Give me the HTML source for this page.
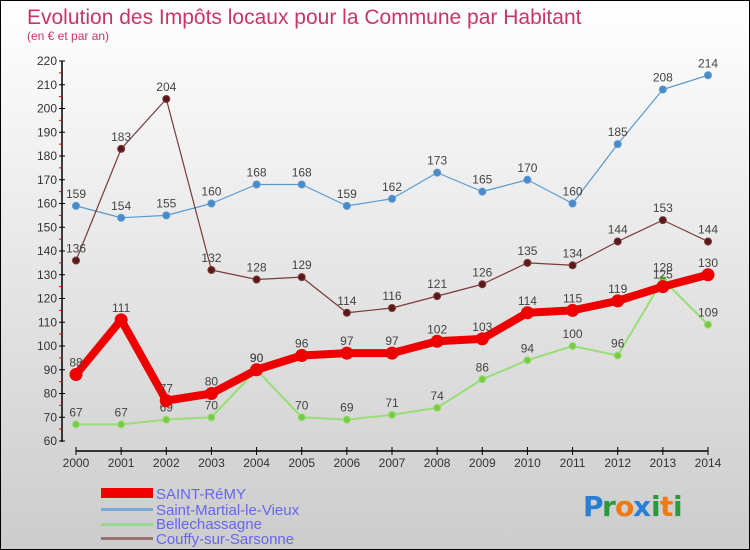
<!DOCTYPE html>
<html><head><meta charset="utf-8"><style>
body{margin:0}
#wrap{position:relative;width:748px;height:548px;border:1px solid #000;background:linear-gradient(#fff 0%,#f0f0f0 30%,#ccc 100%);font-family:"Liberation Sans",sans-serif;overflow:hidden}
svg{position:absolute;left:0;top:0}
</style></head><body>
<div id="wrap">
<svg id="chart" width="750" height="550">
<text x="26" y="23" font-size="21" fill="#c8356a">Evolution des Impôts locaux pour la Commune par Habitant</text>
<text x="26" y="39" font-size="12" fill="#c8356a">(en € et par an)</text>
<g id="axes"></g><g id="series"></g>
<g>
<rect x="100" y="487" width="52" height="10" fill="#e00"/>
<text x="155" y="498" font-size="15" fill="#6666ee">SAINT-RéMY</text>
<rect x="100" y="507" width="52" height="3" fill="#7aaad8"/>
<text x="155" y="514" font-size="15" fill="#6666ee">Saint-Martial-le-Vieux</text>
<rect x="100" y="522" width="52" height="3" fill="#99dd77"/>
<text x="155" y="528" font-size="15" fill="#6666ee">Bellechassagne</text>
<rect x="100" y="536" width="52" height="3" fill="#997070"/>
<text x="155" y="543" font-size="15" fill="#6666ee">Couffy-sur-Sarsonne</text>
</g>
<g font-size="28" font-weight="bold" font-family="'DejaVu Sans',sans-serif">
<text x="582" y="515" fill="#2a7fd4">P</text><text x="601" y="515" fill="#2a9a3a">r</text><text x="614" y="515" fill="#f07a10">o</text><text x="632" y="515" fill="#2a7fd4">x</text><text x="650" y="515" fill="#2a9a3a">i</text><text x="659" y="515" fill="#f07a10">t</text><text x="672" y="515" fill="#2a9a3a">i</text>
</g>
</svg>
</div>
<script>
const years=[2000,2001,2002,2003,2004,2005,2006,2007,2008,2009,2010,2011,2012,2013,2014];
const yTicks=[60,70,80,90,100,110,120,130,140,150,160,170,180,190,200,210,220];
const saintRemy=[88,111,77,80,90,96,97,97,102,103,114,115,119,125,130];
const saintMartial=[159,154,155,160,168,168,159,162,173,165,170,160,185,208,214];
const bellechassagne=[67,67,69,70,90,70,69,71,74,86,94,100,96,128,109];
const couffy=[136,183,204,132,128,129,114,116,121,126,135,134,144,153,144];
const NS="http://www.w3.org/2000/svg";
const xS=i=>75+i*(632/14);
const yS=v=>440-(v-60)*2.375;
function mk(t,a,p){const e=document.createElementNS(NS,t);for(const k in a)e.setAttribute(k,a[k]);p.appendChild(e);return e;}
const ax=document.getElementById('axes');
let l=mk('line',{x1:61,y1:60,x2:61,y2:441,stroke:'#000','stroke-width':1.5},ax);


l=mk('line',{x1:75,y1:450,x2:707,y2:450,stroke:'#000','stroke-width':1.5},ax);


yTicks.forEach((v,i)=>{
 mk('line',{x1:58,x2:64,y1:yS(v),y2:yS(v),stroke:'#000'},ax);
 if(i<yTicks.length-1)mk('line',{x1:58,x2:61,y1:yS(v+5),y2:yS(v+5),stroke:'#e00'},ax);
 const t=mk('text',{x:56,y:yS(v)+4,'font-size':12,'text-anchor':'end',fill:'#333'},ax);
 t.textContent=v;
 
 
});
years.forEach((y,i)=>{
 mk('line',{x1:xS(i),x2:xS(i),y1:446,y2:454,stroke:'#000'},ax);
 const t=mk('text',{x:xS(i),y:466,'font-size':12,'text-anchor':'middle',fill:'#333'},ax);
 t.textContent=y;
 
 
});
const sg=document.getElementById('series');
function series(data,color,dot,w,r,name){
 const g=mk('g',{},sg);
 
 
 mk('polyline',{points:data.map((v,i)=>xS(i)+','+yS(v)).join(' '),fill:'none',stroke:color,'stroke-width':w,'stroke-linejoin':'round'},g);
 data.forEach((v,i)=>{
  const c=mk('circle',{cx:xS(i),cy:yS(v),r:r,fill:dot,stroke:color,'stroke-width':1},g);
  
  
  const t=mk('text',{x:xS(i),y:yS(v)-8,'font-size':12,'text-anchor':'middle',fill:'#444'},g);
  t.textContent=v;
  
  
 });
}
series(bellechassagne,'#99dd77','#77cc44',2,3.5,'bellechassagne-line');
series(saintMartial,'#5a9ad0','#4a8ac8',1.2,3.5,'saint-martial-line');
series(couffy,'#7a3a3a','#5a1a1a',1.2,3.5,'couffy-line');
series(saintRemy,'#ee0000','#ee0000',8,6,'saint-remy-line');
</script>
</body></html>
